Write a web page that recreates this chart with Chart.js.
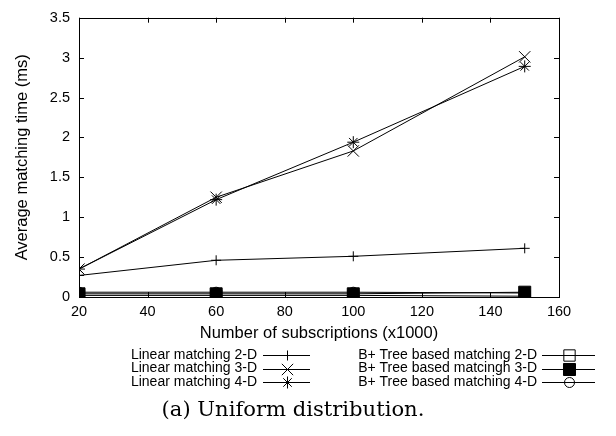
<!DOCTYPE html>
<html>
<head>
<meta charset="utf-8">
<script src="https://cdn.jsdelivr.net/npm/chart.js@4/dist/chart.umd.min.js"></script>
<style>
  html, body { margin: 0; padding: 0; background: #fff; }
  #wrap { width: 616px; height: 436px; }
</style>
</head>
<body>
<div id="wrap"><canvas id="chart" width="616" height="436"></canvas></div>
<script>
// ── Data ──────────────────────────────────────────────────────────
const subscriptions = [20, 60, 100, 150];   // x1000
const linear2D = [0.27, 0.46, 0.51, 0.61];
const linear3D = [0.35, 1.25, 1.83, 3.01];
const linear4D = [0.35, 1.22, 1.94, 2.89];
const btree2D = [0.02, 0.02, 0.02, 0.01];
const btree3D = [0.04, 0.04, 0.04, 0.06];
const btree4D = [0.06, 0.06, 0.06, 0.05];
const xTicks = [20, 40, 60, 80, 100, 120, 140, 160];
const yTicks = [0, 0.5, 1, 1.5, 2, 2.5, 3, 3.5];

const seriesLabels = [
    'Linear matching 2-D', 'Linear matching 3-D', 'Linear matching 4-D',
    'B+ Tree based matching 2-D', 'B+ Tree based matcingh 3-D', 'B+ Tree based matching 4-D'
];
const seriesValues = [linear2D, linear3D, linear4D, btree2D, btree3D, btree4D];
const OPEN = 'rgba(0,0,0,0)';
const markers = [
    { style: 'cross', r: 5, fill: '#000' },
    { style: 'crossRot', r: 8, fill: '#000' },
    { style: 'star', r: 6, fill: '#000' },
    { style: 'rect', r: 8, fill: OPEN },
    { style: 'rect', r: 8.5, fill: '#000' },
    { style: 'circle', r: 5, fill: OPEN }
];

const FONT = "'Liberation Sans', Arial, sans-serif";

// ── Frame, inward ticks, legend and caption (gnuplot look) ─────────
const gnuplotFrame = {
    id: 'gnuplotFrame',
    afterDraw(chart) {
        const { ctx, chartArea: a, scales } = chart;
        ctx.save();
        ctx.strokeStyle = '#000';
        ctx.lineWidth = 1;
        ctx.strokeRect(Math.round(a.left) + 0.5, Math.round(a.top) + 0.5,
            Math.round(a.right - a.left), Math.round(a.bottom - a.top));
        const tl = 5;
        ctx.beginPath();
        xTicks.forEach(v => {
            const px = Math.round(scales.x.getPixelForValue(v)) + 0.5;
            ctx.moveTo(px, a.bottom); ctx.lineTo(px, a.bottom - tl);
            ctx.moveTo(px, a.top); ctx.lineTo(px, a.top + tl);
        });
        yTicks.forEach(v => {
            const py = Math.round(scales.y.getPixelForValue(v)) + 0.5;
            ctx.moveTo(a.left, py); ctx.lineTo(a.left + tl, py);
            ctx.moveTo(a.right, py); ctx.lineTo(a.right - tl, py);
        });
        ctx.stroke();

        // legend, two columns of three
        ctx.font = '14px ' + FONT;
        ctx.textAlign = 'right';
        ctx.textBaseline = 'middle';
        const rows = [355, 368.5, 382];
        const cols = [
            { textRight: 257, x0: 263, x1: 310 },
            { textRight: 537, x0: 542, x1: 595 }
        ];
        chart.data.datasets.forEach((ds, i) => {
            const c = cols[Math.floor(i / 3)];
            const y = rows[i % 3];
            ctx.fillStyle = '#000';
            ctx.fillText(ds.label, c.textRight, y);
            ctx.beginPath();
            ctx.moveTo(c.x0, Math.round(y) + 0.5); ctx.lineTo(c.x1, Math.round(y) + 0.5);
            ctx.stroke();
            const m = markers[i];
            ctx.fillStyle = m.fill;
            Chart.helpers.drawPoint(ctx, {
                pointStyle: m.style, radius: m.r, borderWidth: 1, rotation: 0
            }, Math.round((c.x0 + c.x1) / 2) + 0.5, Math.round(y) + 0.5);
        });

        // caption
        const caption = '(a) Uniform distribution.';
        ctx.font = "20px 'DejaVu Serif', 'Liberation Serif', serif";
        const w = ctx.measureText(caption).width;
        ctx.font = (20 * 263 / w).toFixed(1) + "px 'DejaVu Serif', 'Liberation Serif', serif";
        ctx.fillStyle = '#000';
        ctx.textAlign = 'center';
        ctx.fillText(caption, 293, 411);
        ctx.restore();
    }
};

new Chart(document.getElementById('chart'), {
    type: 'line',
    data: {
        datasets: seriesLabels.map((label, i) => ({
            label,
            order: seriesLabels.length - i,
            data: subscriptions.map((x, j) => ({ x, y: seriesValues[i][j] })),
            borderColor: '#000',
            borderWidth: 1,
            backgroundColor: markers[i].fill,
            pointStyle: markers[i].style,
            pointRadius: markers[i].r,
            pointBorderColor: '#000',
            pointBackgroundColor: markers[i].fill,
            pointBorderWidth: 1,
            tension: 0,
            fill: false
        }))
    },
    options: {
        responsive: false,
        animation: false,
        layout: { padding: { left: 0, right: 57, top: 11, bottom: 93 } },
        plugins: { legend: { display: false }, tooltip: { enabled: false } },
        scales: {
            x: {
                type: 'linear', min: 20, max: 160,
                afterBuildTicks: s => { s.ticks = xTicks.map(v => ({ value: v })); },
                afterFit: s => { s.height = 46; },
                grid: { display: false, drawTicks: false },
                border: { display: false },
                ticks: { color: '#000', font: { family: FONT, size: 14.5 }, padding: 6, maxRotation: 0,
                         callback: v => String(v) },
                title: { display: true, text: 'Number of subscriptions (x1000)', color: '#000',
                         font: { family: FONT, size: 16.5 }, padding: { top: 0, bottom: 0 } }
            },
            y: {
                type: 'linear', min: 0, max: 3.5,
                afterBuildTicks: s => { s.ticks = yTicks.map(v => ({ value: v })); },
                afterFit: s => { s.width = 79; },
                grid: { display: false, drawTicks: false },
                border: { display: false },
                ticks: { color: '#000', font: { family: FONT, size: 14.5 }, padding: 9,
                         callback: v => String(v) },
                title: { display: true, text: 'Average matching time (ms)', color: '#000',
                         font: { family: FONT, size: 16.5 }, padding: { top: 13, bottom: 0 } }
            }
        }
    },
    plugins: [gnuplotFrame]
});
</script>
</body>
</html>
